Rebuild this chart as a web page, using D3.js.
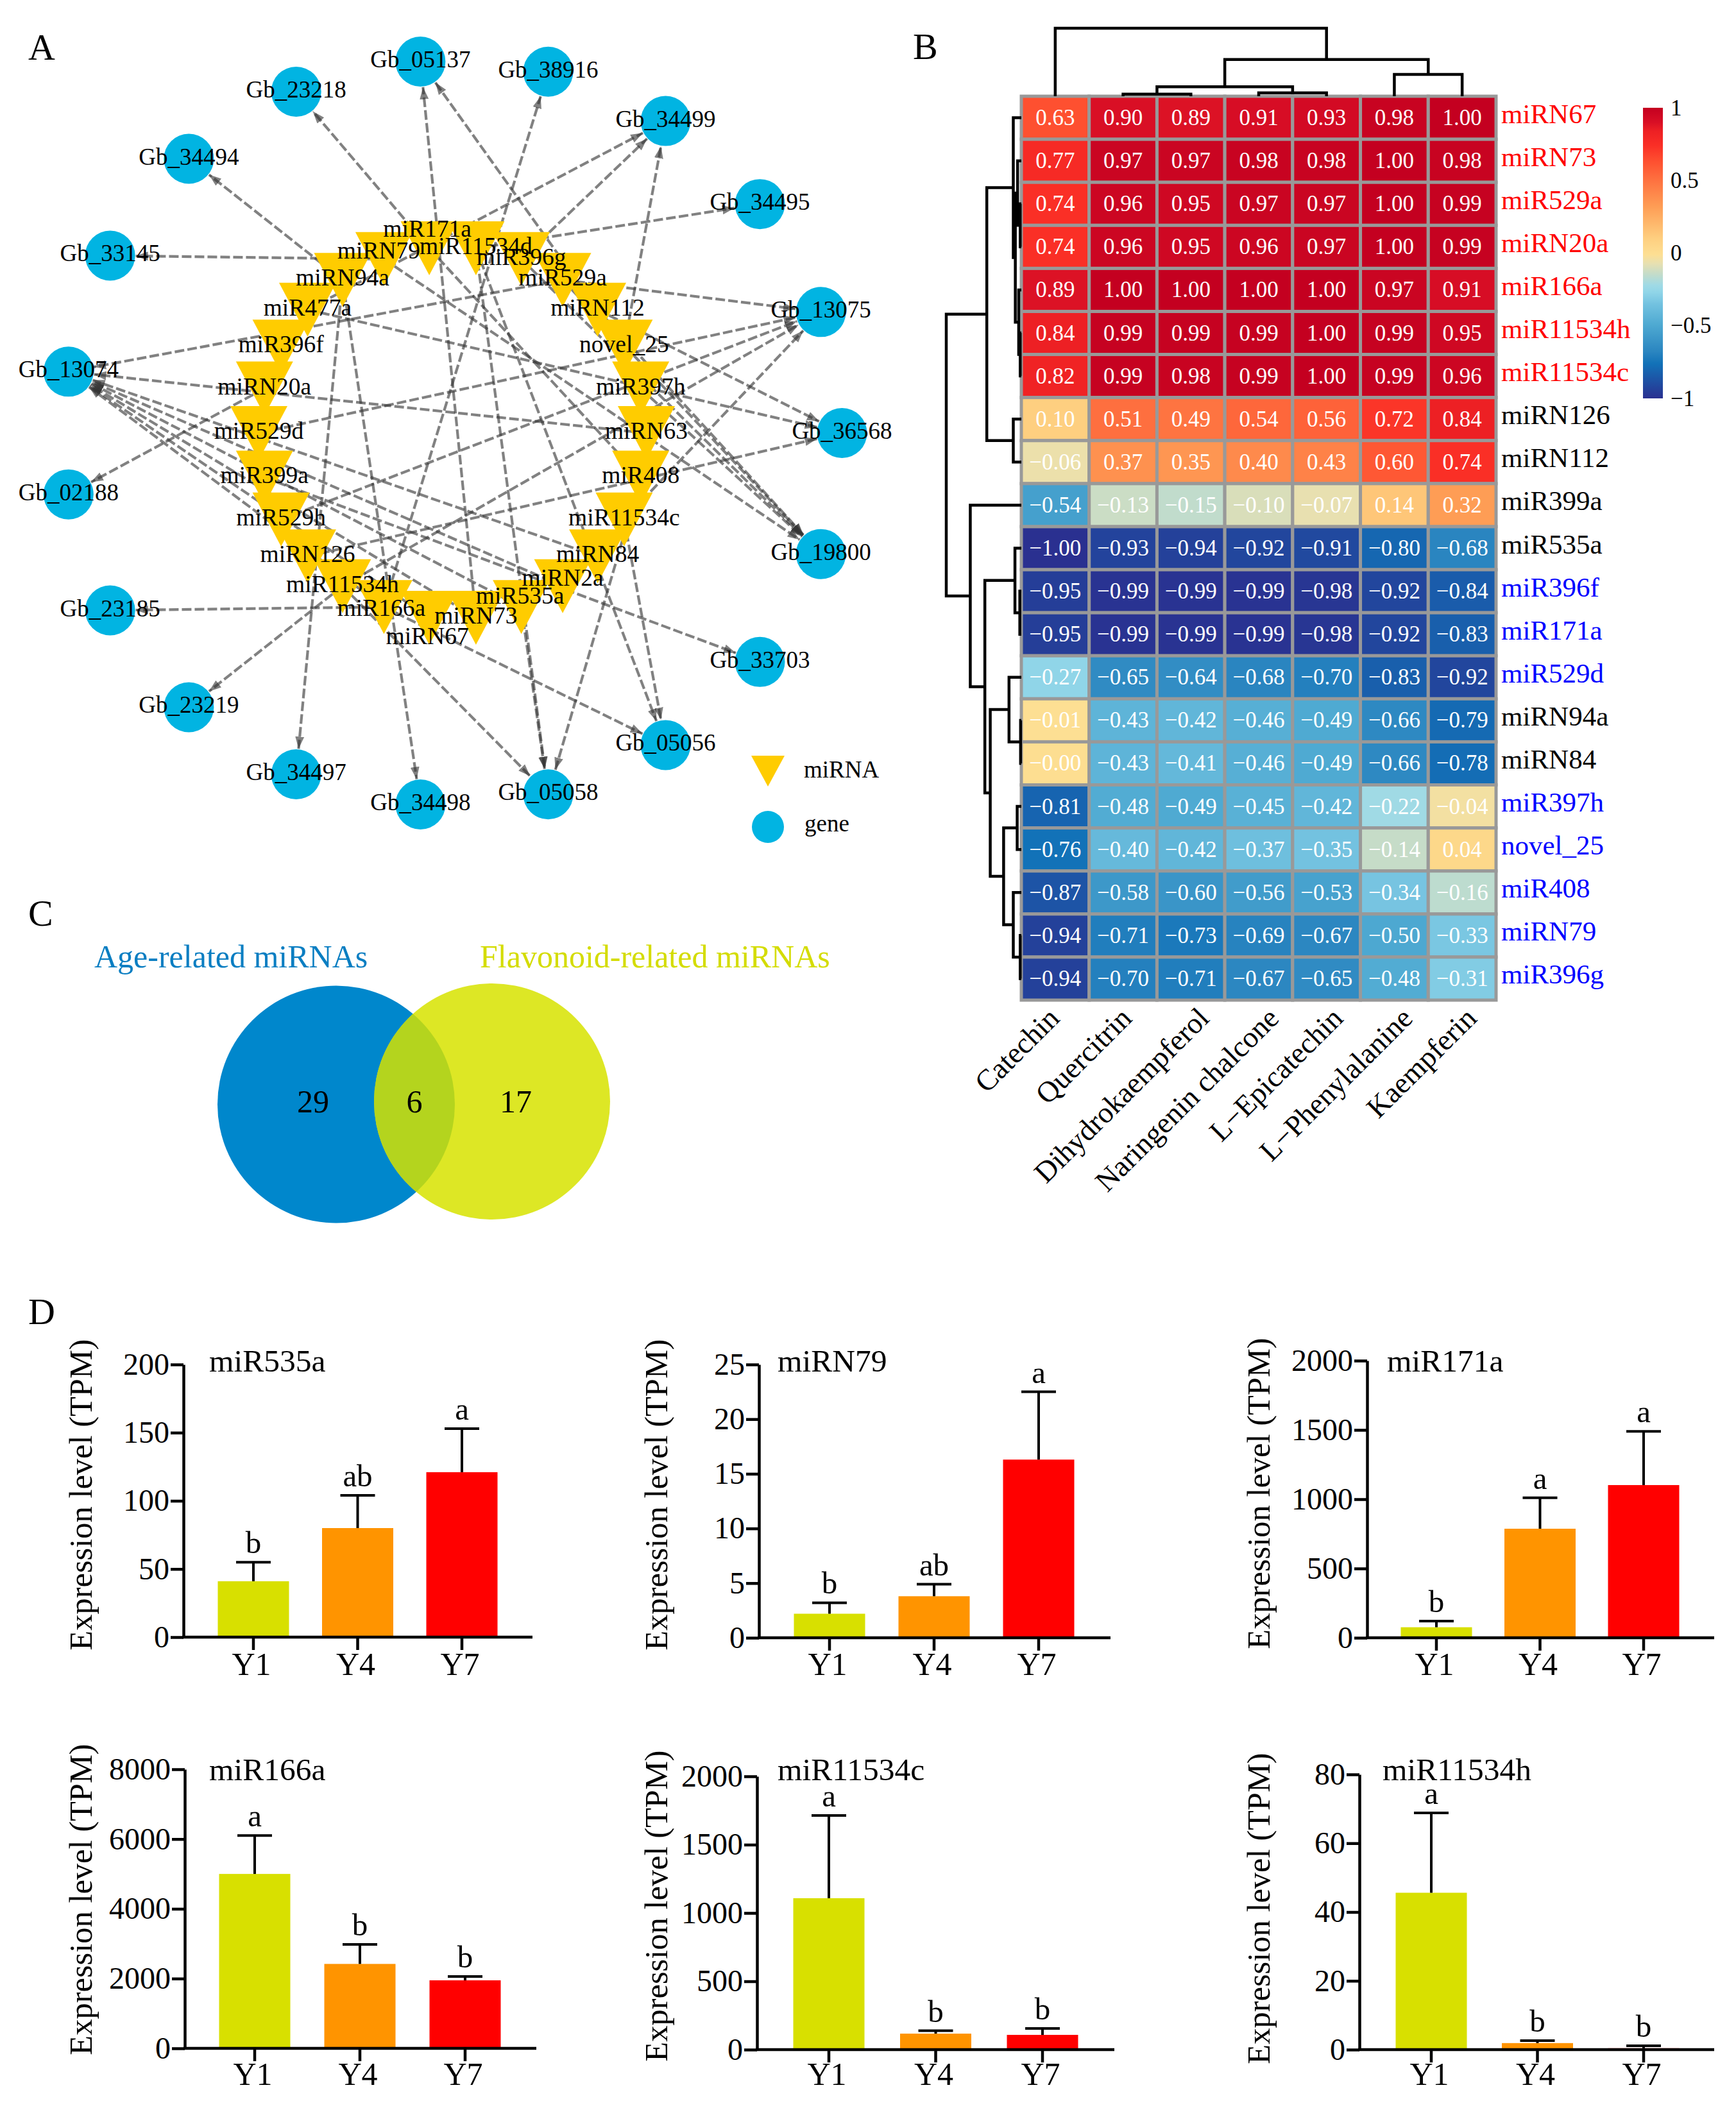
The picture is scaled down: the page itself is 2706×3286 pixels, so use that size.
<!DOCTYPE html>
<html><head><meta charset="utf-8">
<script src="https://cdn.jsdelivr.net/npm/d3@7/dist/d3.min.js"></script>
<style>
html,body{margin:0;padding:0;background:#fff}
svg{display:block}
text{font-family:"Liberation Serif","Times New Roman",serif;fill:#000}
</style></head><body>
<svg id="fig" width="2706" height="3286" viewBox="0 0 2706 3286"></svg>
<script>
/* ---------- Panel A data ---------- */
const genes = ["Gb_36568","Gb_19800","Gb_33703","Gb_05056","Gb_05058","Gb_34498","Gb_34497","Gb_23219","Gb_23185","Gb_02188","Gb_13074","Gb_33145","Gb_34494","Gb_23218","Gb_05137","Gb_38916","Gb_34499","Gb_34495","Gb_13075"];
const mirnas = ["miRN63","miR408","miR11534c","miRN84","miRN2a","miR535a","miRN73","miRN67","miR166a","miR11534h","miRN126","miR529h","miR399a","miR529d","miRN20a","miR396f","miR477a","miRN94a","miRN79","miR171a","miR11534d","miR396g","miR529a","miRN112","novel_25","miR397h"];
const edges = [
["miR171a","Gb_23218"],["miRN73","Gb_05137"],["miRN112","Gb_05137"],["miR166a","Gb_38916"],
["miR477a","Gb_34499"],["miR396g","Gb_34499"],["novel_25","Gb_34499"],["miRN94a","Gb_34494"],
["miRN79","Gb_19800"],["miRN79","Gb_33145"],["miR11534d","Gb_34495"],["miR529a","Gb_13075"],
["miR529d","Gb_13075"],["miR529h","Gb_13075"],["miR11534h","Gb_13075"],["miR11534c","Gb_13075"],
["miRN112","Gb_36568"],["miR477a","Gb_36568"],["miRN126","Gb_36568"],["miR529a","Gb_13074"],
["miRN63","Gb_13074"],["miRN84","Gb_13074"],["miRN2a","Gb_13074"],["miR535a","Gb_13074"],
["miRN73","Gb_13074"],["miRN67","Gb_13074"],["miR166a","Gb_13074"],["miRN20a","Gb_02188"],
["miR166a","Gb_23185"],["miR11534h","Gb_23219"],["miRN94a","Gb_34497"],["miRN94a","Gb_34498"],
["miR11534h","Gb_05058"],["miR535a","Gb_05058"],["miR11534d","Gb_05058"],["miR408","Gb_05058"],
["miR166a","Gb_05056"],["miR11534d","Gb_05056"],["miR11534c","Gb_05056"],["miR399a","Gb_33703"],
["miR396g","Gb_19800"],["miR529a","Gb_19800"],["miRN112","Gb_19800"],["miR397h","Gb_19800"],
["miR171a","miR408"]
];
/* ---------- Panel B data ---------- */
const compounds = ["Catechin","Quercitrin","Dihydrokaempferol","Naringenin chalcone","L\u2212Epicatechin","L\u2212Phenylalanine","Kaempferin"];
const heatRows = ["miRN67","miRN73","miR529a","miRN20a","miR166a","miR11534h","miR11534c","miRN126","miRN112","miR399a","miR535a","miR396f","miR171a","miR529d","miRN94a","miRN84","miR397h","novel_25","miR408","miRN79","miR396g"];
const heatGroups = ["up","up","up","up","up","up","up","none","none","none","none","down","down","down","none","none","down","down","down","down","down"];
const heatValues = [
[0.63,0.90,0.89,0.91,0.93,0.98,1.00],
[0.77,0.97,0.97,0.98,0.98,1.00,0.98],
[0.74,0.96,0.95,0.97,0.97,1.00,0.99],
[0.74,0.96,0.95,0.96,0.97,1.00,0.99],
[0.89,1.00,1.00,1.00,1.00,0.97,0.91],
[0.84,0.99,0.99,0.99,1.00,0.99,0.95],
[0.82,0.99,0.98,0.99,1.00,0.99,0.96],
[0.10,0.51,0.49,0.54,0.56,0.72,0.84],
[-0.06,0.37,0.35,0.40,0.43,0.60,0.74],
[-0.54,-0.13,-0.15,-0.10,-0.07,0.14,0.32],
[-1.00,-0.93,-0.94,-0.92,-0.91,-0.80,-0.68],
[-0.95,-0.99,-0.99,-0.99,-0.98,-0.92,-0.84],
[-0.95,-0.99,-0.99,-0.99,-0.98,-0.92,-0.83],
[-0.27,-0.65,-0.64,-0.68,-0.70,-0.83,-0.92],
[-0.01,-0.43,-0.42,-0.46,-0.49,-0.66,-0.79],
[-0,-0.43,-0.41,-0.46,-0.49,-0.66,-0.78],
[-0.81,-0.48,-0.49,-0.45,-0.42,-0.22,-0.04],
[-0.76,-0.40,-0.42,-0.37,-0.35,-0.14,0.04],
[-0.87,-0.58,-0.60,-0.56,-0.53,-0.34,-0.16],
[-0.94,-0.71,-0.73,-0.69,-0.67,-0.50,-0.33],
[-0.94,-0.70,-0.71,-0.67,-0.65,-0.48,-0.31]
];
/* clustering trees: [height, left, right]; a bare number is a leaf index */
const colTree = [1,0,[0.54,[0.14,[0.03,1,2],[0.05,3,4]],[0.32,5,6]]];
const rowTree = [1,
  [0.46,[0.107,0,[0.08,[0.05,1,[0.015,2,3]],[0.035,4,[0.015,5,6]]]],[0.107,7,8]],
  [0.68,9,[0.486,[0.085,10,[0.02,11,12]],[0.414,[0.164,13,[0.01,14,15]],[0.236,[0.055,16,17],[0.107,18,[0.015,19,20]]]]]]
];
const colorStops = [-1,-0.76,-0.68,-0.49,-0.35,-0.27,-0.22,-0.14,-0.07,-0.01,0.10,0.32,0.51,0.63,0.74,0.84,0.90,1];
const colorValues = ["#2a3090","#1272b8","#2a85c0","#4faad2","#73c2e0","#90d5e8","#a0dae5","#c6dcc8","#e8e0b0","#fddf93","#fecf80","#fe9d55","#fe6f3f","#fe5030","#fa2f26","#ed2024","#d90f25","#c40020"];
const colorbarTicks = [1,0.5,0,-0.5,-1];
/* ---------- Panel C data ---------- */
const vennTitles = ["Age-related miRNAs","Flavonoid-related miRNAs"];
const vennCounts = ["29","6","17"];
/* ---------- Panel D data ---------- */
const years = ["Y1","Y4","Y7"];
const chartNames = ["miR535a","miRN79","miR171a","miR166a","miR11534c","miR11534h"];
const chartMax = [200,25,2000,8000,2000,80];
const chartTicks = [[0,50,100,150,200],[0,5,10,15,20,25],[0,500,1000,1500,2000],[0,2000,4000,6000,8000],[0,500,1000,1500,2000],[0,20,40,60,80]];
const chartMeans = [[41,80,121],[2.2,3.8,16.3],[76,787,1102],[5000,2420,1950],[1108,117,108],[45.6,1.9,0.4]];
const chartErrTop = [[55,104,153],[3.2,4.9,22.5],[120,1010,1490],[6100,2980,2060],[1714,138,155],[68.8,2.6,1.1]];
const chartLetters = [["b","ab","a"],["b","ab","a"],["b","a","a"],["a","b","b"],["a","b","b"],["a","b","b"]];

/* ---------- layout (not data) ---------- */
const svg = d3.select("#fig");
const FONT = 48;
const panelLetters = [["A",44,93],["B",1423,92],["C",44,1443],["D",44,2064]];
svg.selectAll("text.pl").data(panelLetters).join("text").attr("class","pl")
  .attr("x",d=>d[1]).attr("y",d=>d[2]).attr("font-size",58).text(d=>d[0]);

/* === Panel A === */
const A = svg.append("g");
const CX=705.5, CY=675, GENE_RX=607, GENE_RY=581, MI_RX=302, MI_RY=290;
const geneAngle = d3.scalePoint().domain(genes).range([0,2*Math.PI*(genes.length-1)/genes.length]);
const miAngle = d3.scalePoint().domain(mirnas).range([0,2*Math.PI*(mirnas.length-1)/mirnas.length]);
const pos = new Map();
genes.forEach(g=>pos.set(g,[CX+GENE_RX*Math.cos(geneAngle(g)),CY+GENE_RY*Math.sin(geneAngle(g))]));
mirnas.forEach(m=>pos.set(m,[CX+MI_RX*Math.cos(miAngle(m)),CY+MI_RY*Math.sin(miAngle(m))]));
const labelNudge = {miRN2a:[0,-10],miR535a:[-2,-14],miRN67:[-3,32],miR166a:[-4,5],miRN79:[-8,-10],miR171a:[-3,-27]};
const R_GENE=39;
const defs = svg.append("defs");
defs.append("marker").attr("id","arrow").attr("markerUnits","userSpaceOnUse")
  .attr("markerWidth",20).attr("markerHeight",16).attr("refX",19).attr("refY",8).attr("orient","auto")
  .append("path").attr("d","M0,1L19,8L0,15Z").attr("fill","#333").attr("fill-opacity",0.62);
A.append("g").selectAll("line").data(edges).join("line")
  .each(function(d){
    const s=pos.get(d[0]), t=pos.get(d[1]);
    const isGene=genes.includes(d[1]);
    const L=Math.hypot(t[0]-s[0],t[1]-s[1]), k=isGene?(L-R_GENE-1)/L:1;
    d3.select(this).attr("x1",s[0]).attr("y1",s[1])
      .attr("x2",s[0]+(t[0]-s[0])*k).attr("y2",s[1]+(t[1]-s[1])*k)
      .attr("marker-end",isGene?"url(#arrow)":null);
  })
  .attr("stroke","#333").attr("stroke-opacity",0.62).attr("stroke-width",4.2).attr("stroke-dasharray","15 5");
A.append("g").selectAll("circle").data(genes).join("circle")
  .attr("cx",g=>pos.get(g)[0]).attr("cy",g=>pos.get(g)[1]).attr("r",R_GENE).attr("fill","#01b4e2");
const triPath = d3.line()([[-44.5,-42],[44.5,-42],[0,42]])+"Z";
A.append("g").selectAll("path").data(mirnas).join("path")
  .attr("d",triPath).attr("transform",m=>`translate(${pos.get(m)})`).attr("fill","#ffcc00");
A.append("g").selectAll("text").data(genes).join("text")
  .attr("x",g=>pos.get(g)[0]).attr("y",g=>pos.get(g)[1]+9).attr("text-anchor","middle").attr("font-size",37).text(g=>g);
A.append("g").selectAll("text").data(mirnas).join("text")
  .attr("x",m=>pos.get(m)[0]+(labelNudge[m]?labelNudge[m][0]:0))
  .attr("y",m=>pos.get(m)[1]+(labelNudge[m]?labelNudge[m][1]:0)+9)
  .attr("text-anchor","middle").attr("font-size",37.5).text(m=>m);
A.append("path").attr("d",d3.line()([[-26,-24],[26,-24],[0,24]])+"Z").attr("transform","translate(1197,1202)").attr("fill","#ffcc00");
A.append("circle").attr("cx",1197).attr("cy",1289).attr("r",25).attr("fill","#01b4e2");
A.append("text").attr("x",1253).attr("y",1212).attr("font-size",37).text("miRNA");
A.append("text").attr("x",1254).attr("y",1296).attr("font-size",37).text("gene");

/* === Panel B === */
const B = svg.append("g");
const hx = d3.scaleBand().domain(d3.range(compounds.length)).range([1592,2332]);
const hy = d3.scaleBand().domain(d3.range(heatRows.length)).range([150,1559]);
const heatColor = d3.scaleLinear().domain(colorStops).range(colorValues).clamp(true);
const fmt = v => ((v<0||Object.is(v,-0))?"\u2212":"")+Math.abs(v).toFixed(2);
const cells = heatValues.flatMap((row,r)=>row.map((v,c)=>({r,c,v})));
B.append("g").selectAll("rect").data(cells).join("rect")
  .attr("x",d=>hx(d.c)).attr("y",d=>hy(d.r)).attr("width",hx.bandwidth()).attr("height",hy.bandwidth())
  .attr("fill",d=>heatColor(d.v)).attr("stroke","#999").attr("stroke-width",5);
B.append("g").selectAll("text").data(cells).join("text")
  .attr("x",d=>hx(d.c)+hx.bandwidth()/2).attr("y",d=>hy(d.r)+hy.bandwidth()/2+11.5)
  .attr("text-anchor","middle").attr("font-size",35).style("fill","#fff").text(d=>fmt(d.v));
const groupColor = {up:"#ff0000",down:"#0000ff",none:"#000"};
B.append("g").selectAll("text").data(heatRows).join("text")
  .attr("x",2340).attr("y",(d,i)=>hy(i)+hy.bandwidth()/2+8).attr("font-size",43)
  .style("fill",(d,i)=>groupColor[heatGroups[i]]).text(d=>d);
const colLabelOffsets = [9,16,31,34,28,31,25];
B.append("g").selectAll("text").data(compounds).join("text")
  .attr("transform",(d,i)=>`translate(${hx(i)+hx.bandwidth()/2+colLabelOffsets[i]},1590) rotate(-45)`)
  .attr("text-anchor","end").attr("font-size",46).text(d=>d);
/* dendrograms */
const dendY = d3.scaleLinear().domain([0,1]).range([150,44]);
const dendX = d3.scaleLinear().domain([0,1]).range([1592,1475]);
function drawTree(t,leafPos,g,horizontal){
  if(typeof t==="number") return {p:leafPos(t),h:0};
  const a=drawTree(t[1],leafPos,g,horizontal), b=drawTree(t[2],leafPos,g,horizontal), h=t[0];
  const pts=[[a.p,a.h],[a.p,h],[b.p,h],[b.p,b.h]];
  const line=horizontal? pts.map(q=>[dendX(q[1]),q[0]]) : pts.map(q=>[q[0],dendY(q[1])]);
  g.append("path").attr("d",d3.line()(line)).attr("fill","none").attr("stroke","#000").attr("stroke-width",4.5);
  return {p:(a.p+b.p)/2,h};
}
drawTree(colTree,i=>hx(i)+hx.bandwidth()/2,B.append("g"),false);
drawTree(rowTree,i=>hy(i)+hy.bandwidth()/2,B.append("g"),true);
/* colour bar */
const barScale = d3.scaleLinear().domain([-1,1]).range([621,168]);
const grad = defs.append("linearGradient").attr("id","cbar").attr("x1",0).attr("y1",1).attr("x2",0).attr("y2",0);
colorStops.forEach((s,i)=>grad.append("stop").attr("offset",(s+1)/2).attr("stop-color",colorValues[i]));
B.append("rect").attr("x",2561).attr("y",168).attr("width",31).attr("height",453).attr("fill","url(#cbar)");
const barAxis = B.append("g").attr("transform","translate(2592,0)")
  .call(d3.axisRight(barScale).tickValues(colorbarTicks).tickSize(0).tickPadding(12)
  .tickFormat(d=>String(d).replace("-","\u2212")));
barAxis.select(".domain").remove();
barAxis.selectAll("text").attr("font-size",35).style("font-family",'"Liberation Serif",serif').style("fill","#000");

/* === Panel C === */
const C = svg.append("g");
const vennCircles = [{cx:524,cy:1721.5,r:185,fill:"#0087cc"},{cx:767,cy:1717,r:184,fill:"#dde725"}];
C.selectAll("circle.v").data(vennCircles).join("circle").attr("class","v")
  .attr("cx",d=>d.cx).attr("cy",d=>d.cy).attr("r",d=>d.r).attr("fill",d=>d.fill);
defs.append("clipPath").attr("id","vclip").append("circle").attr("cx",524).attr("cy",1721.5).attr("r",185);
C.append("circle").attr("cx",767).attr("cy",1717).attr("r",184).attr("fill","#b4d41e").attr("clip-path","url(#vclip)");
C.append("text").attr("x",147).attr("y",1508).attr("font-size",50).style("fill","#0a7ec2").text(vennTitles[0]);
C.append("text").attr("x",748).attr("y",1508).attr("font-size",50).style("fill","#d4dc00").text(vennTitles[1]);
const vennX=[488,646,804];
C.selectAll("text.n").data(vennCounts).join("text").attr("class","n")
  .attr("x",(d,i)=>vennX[i]).attr("y",1734).attr("text-anchor","middle").attr("font-size",50).text(d=>d);

/* === Panel D === */
const barColors = ["#d8e000","#ff9400","#ff0000"];
const chartLayout = [
 {ax:286,y0:2552,top:2127,end:830,c:[395,558,720],lx:143,ly:2330,tx:326,ty:2138,xb:2611},
 {ax:1183,y0:2553,top:2127,end:1731,c:[1293,1456,1619],lx:1040,ly:2330,tx:1212,ty:2138,xb:2611},
 {ax:2131,y0:2553,top:2121,end:2672,c:[2239,2401,2562],lx:1979,ly:2328,tx:2162,ty:2138,xb:2611},
 {ax:288,y0:3193,top:2758,end:836,c:[397,561,725],lx:143,ly:2961,tx:326,ty:2775,xb:3250},
 {ax:1180,y0:3195,top:2769,end:1737,c:[1292,1458,1625],lx:1040,ly:2971,tx:1212,ty:2775,xb:3250},
 {ax:2119,y0:3195,top:2766,end:2672,c:[2231,2396,2562],lx:1979,ly:2975,tx:2155,ty:2775,xb:3250}
];
const BAR_W=111;
chartNames.forEach((name,k)=>{
  const L=chartLayout[k], g=svg.append("g");
  const y=d3.scaleLinear().domain([0,chartMax[k]]).range([L.y0,L.top]);
  const step=(L.c[2]-L.c[0])/2, pad=1-BAR_W/step;
  const x=d3.scaleBand().domain(years).range([L.c[0]-step/2,L.c[2]+step/2]).paddingInner(pad).paddingOuter(pad/2);
  const rows=years.map((yr,i)=>({yr,i,m:chartMeans[k][i],e:chartErrTop[k][i],l:chartLetters[k][i]}));
  const cx=d=>x(d.yr)+x.bandwidth()/2;
  g.selectAll("rect").data(rows).join("rect").attr("x",d=>x(d.yr)).attr("width",x.bandwidth())
    .attr("y",d=>y(d.m)).attr("height",d=>y(0)-y(d.m)).attr("fill",d=>barColors[d.i]);
  g.selectAll("line.err").data(rows).join("line").attr("class","err")
    .attr("x1",cx).attr("x2",cx).attr("y1",d=>y(d.m)).attr("y2",d=>y(d.e)).attr("stroke","#000").attr("stroke-width",4);
  g.selectAll("line.cap").data(rows).join("line").attr("class","cap")
    .attr("x1",d=>cx(d)-27).attr("x2",d=>cx(d)+27).attr("y1",d=>y(d.e)).attr("y2",d=>y(d.e)).attr("stroke","#000").attr("stroke-width",4);
  g.selectAll("text.let").data(rows).join("text").attr("class","let")
    .attr("x",cx).attr("y",d=>y(d.e)-14).attr("text-anchor","middle").attr("font-size",49).text(d=>d.l);
  const ay=g.append("g").attr("transform",`translate(${L.ax},0)`)
    .call(d3.axisLeft(y).tickValues(chartTicks[k]).tickSize(20).tickSizeOuter(0).tickPadding(2).tickFormat(d3.format("d")));
  const ax=g.append("g").attr("transform",`translate(0,${L.y0})`)
    .call(d3.axisBottom(x).tickSize(20).tickSizeOuter(0).tickPadding(6));
  ax.select(".domain").remove();
  g.append("line").attr("x1",L.ax-2).attr("x2",L.end).attr("y1",L.y0).attr("y2",L.y0).attr("stroke","#000").attr("stroke-width",4.5);
  [ay,ax].forEach(a=>{
    a.selectAll(".domain,.tick line").attr("stroke","#000").attr("stroke-width",4.5);
    a.selectAll("text").attr("font-size",FONT).style("font-family",'"Liberation Serif",serif').style("fill","#000");
  });
  ax.selectAll("text").attr("dy",null).attr("y",null).attr("dominant-baseline",null).attr("font-size",50)
    .attr("transform",`translate(-3,${L.xb-L.y0})`);
  g.append("text").attr("transform",`translate(${L.lx},${L.ly}) rotate(-90)`).attr("text-anchor","middle").attr("font-size",50.5).text("Expression level (TPM)");
  g.append("text").attr("x",L.tx).attr("y",L.ty).attr("font-size",49.5).text(name);
});
</script></body></html>
